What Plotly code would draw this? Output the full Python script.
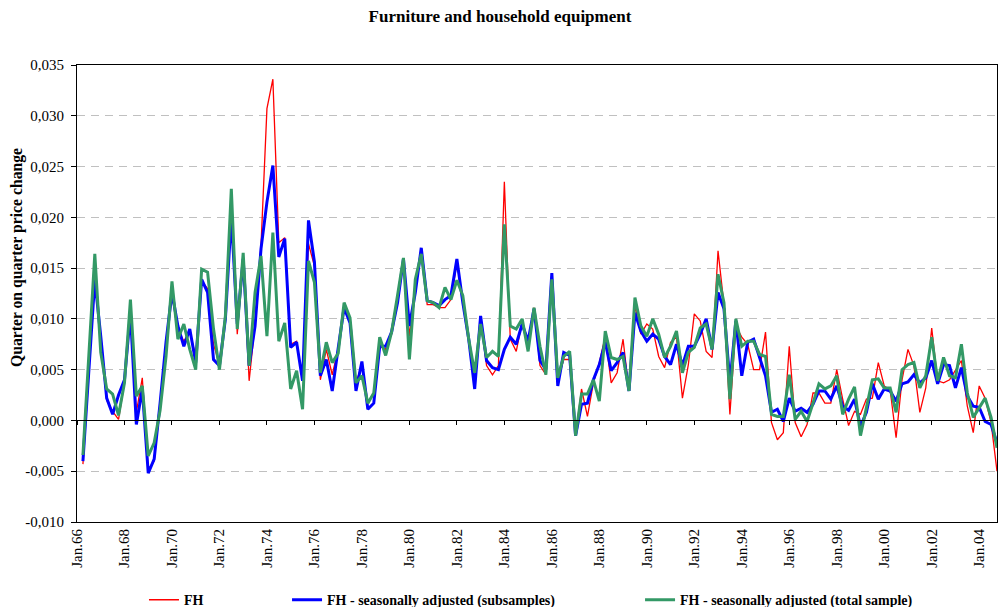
import plotly.graph_objects as go

# Furniture and household equipment: quarter-on-quarter price change,
# 1966Q2 - 2004Q4 (first quarter has no previous quarter).

fh = [
    -0.0043, 0.0055, 0.0145, 0.0080, 0.0020, 0.0009, 0.0001, 0.0037, 0.0110, 0.0008,
    0.0042, -0.0048, -0.0040, 0.0015, 0.0075, 0.0123, 0.0090, 0.0078, 0.0088, 0.0063,
    0.0137, 0.0130, 0.0075, 0.0055, 0.0098, 0.0210, 0.0085, 0.0160, 0.0039, 0.0095,
    0.0172, 0.0307, 0.0336, 0.0175, 0.0180, 0.0075, 0.0078, 0.0040, 0.0174, 0.0152,
    0.0040, 0.0070, 0.0045, 0.0070, 0.0113, 0.0096, 0.0037, 0.0055, 0.0012, 0.0017,
    0.0073, 0.0070, 0.0085, 0.0118, 0.0158, 0.0083, 0.0130, 0.0167, 0.0114, 0.0114,
    0.0111, 0.0111, 0.0119, 0.0155, 0.0116, 0.0080, 0.0031, 0.0100, 0.0054, 0.0045,
    0.0054, 0.0235, 0.0080, 0.0068, 0.0097, 0.0072, 0.0111, 0.0054, 0.0045, 0.0141,
    0.0040, 0.0060, 0.0060, -0.0015, 0.0031, 0.0004, 0.0037, 0.0057, 0.0083, 0.0037,
    0.0047, 0.0080, 0.0029, 0.0113, 0.0085, 0.0095, 0.0090, 0.0063, 0.0052, 0.0077,
    0.0082, 0.0022, 0.0055, 0.0105, 0.0098, 0.0068, 0.0062, 0.0167, 0.0114, 0.0006,
    0.0093, 0.0082, 0.0075, 0.0050, 0.0050, 0.0087, -0.0002, -0.0019, -0.0012, 0.0073,
    -0.0002, -0.0016, -0.0004, 0.0027, 0.0027, 0.0017, 0.0017, 0.0050, 0.0021, -0.0005,
    0.0009, 0.0006, 0.0021, 0.0022, 0.0057, 0.0034, 0.0030, -0.0017, 0.0040, 0.0070,
    0.0054, 0.0008, 0.0032, 0.0091, 0.0039, 0.0037, 0.0040, 0.0049, 0.0059, 0.0014,
    -0.0012, 0.0034, 0.0022, -0.0002, -0.0050,
]

fh_sa_sub = [
    -0.0040, 0.0055, 0.0139, 0.0083, 0.0022, 0.0006, 0.0025, 0.0040, 0.0106, -0.0004,
    0.0031, -0.0052, -0.0038, 0.0017, 0.0077, 0.0126, 0.0093, 0.0073, 0.0090, 0.0057,
    0.0139, 0.0126, 0.0060, 0.0054, 0.0100, 0.0202, 0.0095, 0.0159, 0.0054, 0.0093,
    0.0169, 0.0215, 0.0251, 0.0161, 0.0179, 0.0072, 0.0077, 0.0039, 0.0197, 0.0156,
    0.0044, 0.0060, 0.0029, 0.0071, 0.0111, 0.0096, 0.0029, 0.0058, 0.0011, 0.0017,
    0.0073, 0.0073, 0.0087, 0.0116, 0.0159, 0.0093, 0.0126, 0.0170, 0.0118, 0.0116,
    0.0113, 0.0119, 0.0123, 0.0159, 0.0116, 0.0080, 0.0031, 0.0103, 0.0059, 0.0052,
    0.0050, 0.0070, 0.0082, 0.0075, 0.0095, 0.0078, 0.0110, 0.0059, 0.0050, 0.0145,
    0.0034, 0.0067, 0.0064, -0.0015, 0.0016, 0.0017, 0.0040, 0.0055, 0.0077, 0.0049,
    0.0057, 0.0067, 0.0029, 0.0106, 0.0088, 0.0078, 0.0085, 0.0080, 0.0063, 0.0055,
    0.0075, 0.0054, 0.0073, 0.0073, 0.0085, 0.0100, 0.0070, 0.0126, 0.0110, 0.0037,
    0.0098, 0.0044, 0.0077, 0.0080, 0.0063, 0.0044, 0.0008, 0.0011, -0.0001, 0.0022,
    0.0009, 0.0012, 0.0008, 0.0016, 0.0029, 0.0029, 0.0021, 0.0034, 0.0014, 0.0010,
    0.0021, -0.0006, 0.0008, 0.0036, 0.0021, 0.0031, 0.0029, 0.0019, 0.0036, 0.0038,
    0.0045, 0.0037, 0.0042, 0.0059, 0.0036, 0.0055, 0.0054, 0.0032, 0.0052, 0.0024,
    0.0014, 0.0013, -0.0001, -0.0004, -0.0022,
]

fh_sa_total = [
    -0.0034, 0.0062, 0.0164, 0.0067, 0.0031, 0.0026, 0.0005, 0.0037, 0.0119, 0.0024,
    0.0034, -0.0035, -0.0022, 0.0010, 0.0063, 0.0137, 0.0080, 0.0095, 0.0070, 0.0050,
    0.0149, 0.0146, 0.0090, 0.0050, 0.0103, 0.0228, 0.0090, 0.0165, 0.0054, 0.0126,
    0.0162, 0.0083, 0.0185, 0.0078, 0.0096, 0.0031, 0.0049, 0.0011, 0.0157, 0.0136,
    0.0047, 0.0077, 0.0057, 0.0066, 0.0116, 0.0101, 0.0037, 0.0044, 0.0017, 0.0027,
    0.0082, 0.0064, 0.0087, 0.0123, 0.0160, 0.0060, 0.0139, 0.0164, 0.0118, 0.0116,
    0.0111, 0.0131, 0.0119, 0.0138, 0.0123, 0.0080, 0.0047, 0.0095, 0.0062, 0.0068,
    0.0063, 0.0193, 0.0093, 0.0090, 0.0100, 0.0068, 0.0111, 0.0073, 0.0045, 0.0139,
    0.0042, 0.0063, 0.0068, -0.0015, 0.0026, 0.0026, 0.0040, 0.0019, 0.0088, 0.0062,
    0.0060, 0.0063, 0.0029, 0.0121, 0.0093, 0.0083, 0.0100, 0.0085, 0.0062, 0.0073,
    0.0088, 0.0047, 0.0067, 0.0072, 0.0091, 0.0095, 0.0070, 0.0144, 0.0116, 0.0021,
    0.0100, 0.0073, 0.0078, 0.0078, 0.0065, 0.0063, 0.0006, 0.0004, 0.0004, 0.0045,
    0.0001, 0.0009, -0.0001, 0.0017, 0.0036, 0.0031, 0.0034, 0.0044, 0.0006, 0.0021,
    0.0033, -0.0015, 0.0014, 0.0040, 0.0041, 0.0032, 0.0032, 0.0008, 0.0050, 0.0055,
    0.0057, 0.0032, 0.0044, 0.0082, 0.0039, 0.0062, 0.0044, 0.0042, 0.0075, 0.0027,
    0.0003, 0.0013, 0.0022, 0.0003, -0.0027,
]

year_labels = [
    "Jan.66", "Jan.68", "Jan.70", "Jan.72", "Jan.74", "Jan.76", "Jan.78",
    "Jan.80", "Jan.82", "Jan.84", "Jan.86", "Jan.88", "Jan.90", "Jan.92",
    "Jan.94", "Jan.96", "Jan.98", "Jan.00", "Jan.02", "Jan.04",
]
y_ticks = [-0.010, -0.005, 0.0, 0.005, 0.010, 0.015, 0.020, 0.025, 0.030, 0.035]
y_tick_labels = ["-0,010", "-0,005", "0,000", "0,005", "0,010", "0,015",
                 "0,020", "0,025", "0,030", "0,035"]

# quarter index: 0 = 1966Q1, data start at 1966Q2
quarters = list(range(1, len(fh) + 1))
year_ticks = [8 * k for k in range(len(year_labels))]
x_range = [0, len(fh)]

serif = "Liberation Serif, Times New Roman, serif"
W, H = 1002, 607

fig = go.Figure()
fig.add_trace(go.Scatter(
    x=quarters, y=fh, name="FH", mode="lines",
    line=dict(color="#ff0000", width=1.3), legend="legend",
))
fig.add_trace(go.Scatter(
    x=quarters, y=fh_sa_sub, name="FH - seasonally adjusted (subsamples)",
    mode="lines", line=dict(color="#0000ff", width=3), legend="legend2",
))
fig.add_trace(go.Scatter(
    x=quarters, y=fh_sa_total, name="FH - seasonally adjusted (total sample)",
    mode="lines", line=dict(color="#339966", width=3), legend="legend3",
    xaxis="x2",
))

legend_style = dict(
    orientation="h", yanchor="middle", y=-0.171, xanchor="left",
    font=dict(family=serif, size=14, color="black", weight="bold"),
    bgcolor="rgba(0,0,0,0)", itemwidth=30,
)

fig.update_layout(
    width=W, height=H,
    showlegend=True,
    margin=dict(l=77, r=5, t=65, b=85, autoexpand=False),
    paper_bgcolor="white", plot_bgcolor="white",
    font=dict(family=serif, color="black"),
    title=dict(
        text="<b>Furniture and household equipment</b>",
        x=500 / W, xref="container", xanchor="center",
        y=1 - 16 / H, yref="container", yanchor="middle",
        font=dict(family=serif, size=17, color="black"),
    ),
    xaxis=dict(
        range=x_range, tickmode="array", tickvals=year_ticks,
        ticktext=year_labels, tickangle=-90, ticks="",
        tickfont=dict(family=serif, size=15),
        showgrid=False, zeroline=False, automargin=False,
        showline=True, linecolor="black", linewidth=1, mirror=True,
    ),
    xaxis2=dict(
        range=x_range, overlaying="x", anchor="free",
        position=(0 - y_ticks[0]) / (y_ticks[-1] - y_ticks[0]),
        tickmode="array", tickvals=year_ticks, showticklabels=False,
        ticks="outside", ticklen=4, tickcolor="black",
        showgrid=False, zeroline=False,
        showline=True, linecolor="black", linewidth=1,
    ),
    yaxis=dict(
        range=[y_ticks[0], y_ticks[-1]], tickmode="array",
        tickvals=y_ticks, ticktext=y_tick_labels,
        tickfont=dict(family=serif, size=15),
        ticks="outside", ticklen=5, tickcolor="black", ticklabelstandoff=4,
        showgrid=True, gridcolor="#c0c0c0", gridwidth=1, griddash="8px,6px",
        zeroline=False, automargin=False,
        showline=True, linecolor="black", linewidth=1, mirror=True,
    ),
    annotations=[dict(
        text="<b>Quarter on quarter price change</b>",
        xref="paper", yref="paper",
        x=(17 - 77) / (W - 82), y=(522 - 258) / (522 - 65),
        xanchor="center", yanchor="middle", textangle=-90, showarrow=False,
        font=dict(family=serif, size=15.7, color="black"),
    )],
    legend=dict(legend_style, x=0.0728),
    legend2=dict(legend_style, x=0.2283),
    legend3=dict(legend_style, x=0.6120),
)

# the page body has a default 8px margin; drop it so the figure fills the window
fig.write_html(
    "out.html",
    config={"displayModeBar": False},
    post_script="document.body.style.margin = '0';",
)
